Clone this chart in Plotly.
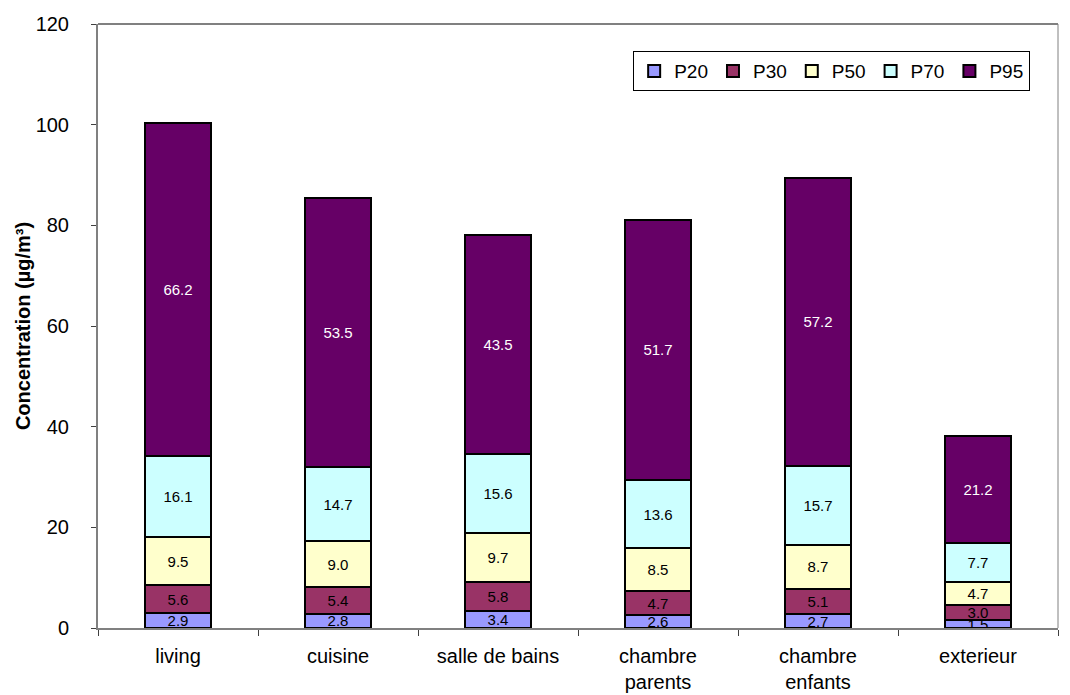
import plotly.graph_objects as go

rooms = ["living", "cuisine", "salle de bains", "chambre<br>parents", "chambre<br>enfants", "exterieur"]
p20 = [2.9, 2.8, 3.4, 2.6, 2.7, 1.5]
p30 = [5.6, 5.4, 5.8, 4.7, 5.1, 3.0]
p50 = [9.5, 9.0, 9.7, 8.5, 8.7, 4.7]
p70 = [16.1, 14.7, 15.6, 13.6, 15.7, 7.7]
p95 = [66.2, 53.5, 43.5, 51.7, 57.2, 21.2]

series = [
    ("P20", p20, "#9999FF", "black"),
    ("P30", p30, "#993366", "black"),
    ("P50", p50, "#FFFFCC", "black"),
    ("P70", p70, "#CCFFFF", "black"),
    ("P95", p95, "#660066", "white"),
]

FONT = "Arial, Liberation Sans, sans-serif"

fig = go.Figure()
for name, vals, color, tcolor in series:
    fig.add_trace(go.Bar(
        x=rooms, y=vals, name=name,
        marker=dict(color=color, line=dict(color="black", width=2)),
        text=[f"{v:.1f}" for v in vals],
        textposition="inside", insidetextanchor="middle",
        textfont=dict(family=FONT, size=15, color=tcolor),
        constraintext="none",
    ))

fig.update_layout(
    barmode="stack",
    bargap=0.59,
    width=1070, height=695,
    margin=dict(l=98, r=12, t=24, b=67),
    plot_bgcolor="white", paper_bgcolor="white",
    font=dict(family=FONT, size=20, color="black"),
    legend=dict(
        orientation="h", x=0.971, y=0.955, xanchor="right", yanchor="top",
        bordercolor="black", borderwidth=1, bgcolor="white",
        font=dict(size=19), traceorder="normal",
        itemwidth=30, tracegroupgap=0,
    ),
    showlegend=True,
)
fig.update_xaxes(
    automargin=False,
    showline=True, linecolor="#808080", linewidth=2,
    ticks="outside", tickson="boundaries", ticklen=6, tickcolor="#404040",
    ticklabelstandoff=9,
    tickfont=dict(size=20),
)
fig.update_yaxes(
    automargin=False,
    range=[0, 120], dtick=20, showgrid=False,
    showline=True, linecolor="#808080", linewidth=2,
    ticks="outside", ticklen=5, tickcolor="#404040",
    ticklabelstandoff=18,
    tickfont=dict(size=20),
    title=dict(text="<b>Concentration (µg/m³)</b>", font=dict(size=20), standoff=0),
    zeroline=False,
)
# frame on top and right of the plot area
fig.add_shape(type="line", xref="paper", yref="paper", x0=0, x1=1, y0=1, y1=1,
              line=dict(color="#808080", width=2))
fig.add_shape(type="line", xref="paper", yref="paper", x0=1, x1=1, y0=0, y1=1,
              line=dict(color="#808080", width=1))

fig.write_html("out.html")
